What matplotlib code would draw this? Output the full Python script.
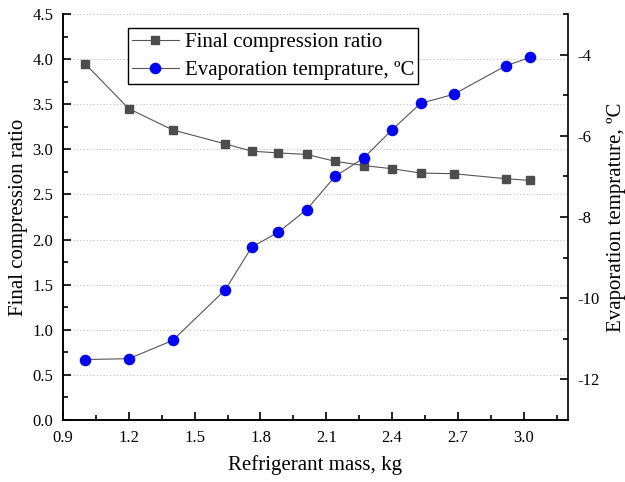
import matplotlib.pyplot as plt
from matplotlib.ticker import MultipleLocator

plt.rcParams['font.family'] = ['Liberation Serif', 'DejaVu Serif']
plt.rcParams['axes.unicode_minus'] = False

# refrigerant charge and measured results
mass = [1.0, 1.2, 1.4, 1.64, 1.76, 1.88, 2.01, 2.14, 2.27, 2.4, 2.53, 2.68, 2.92, 3.03]
compression_ratio = [3.95, 3.45, 3.215, 3.06, 2.98, 2.96, 2.944, 2.867, 2.82, 2.785, 2.737, 2.73, 2.674, 2.655]
evap_temp = [-11.51, -11.49, -11.04, -9.79, -8.74, -8.38, -7.82, -7.0, -6.55, -5.85, -5.2, -4.98, -4.27, -4.07]

fig = plt.figure(figsize=(6.25, 4.82), dpi=100)
ax = fig.add_axes([0.1008, 0.1286, 0.8075, 0.8424])
ax2 = ax.twinx()

l1, = ax.plot(mass, compression_ratio, color='#555555', lw=0.8, marker='s',
              markersize=6.3, markerfacecolor='#4d4d4d', markeredgecolor='#4d4d4d',
              label='Final compression ratio', zorder=3)
l2, = ax2.plot(mass, evap_temp, color='#555555', lw=0.8, marker='o',
               markersize=7.3, markerfacecolor='#0000ff', markeredgecolor='#0000ff',
               label='Evaporation temprature, ºC', zorder=3)

ax.set_xlim(0.9, 3.2)
ax.set_ylim(0, 4.5)
ax2.set_ylim(-13, -3)

ax.xaxis.set_major_locator(MultipleLocator(0.3))
ax.xaxis.set_minor_locator(MultipleLocator(0.15))
ax.yaxis.set_major_locator(MultipleLocator(0.5))
ax.yaxis.set_minor_locator(MultipleLocator(0.25))
ax2.yaxis.set_major_locator(MultipleLocator(2))
ax2.yaxis.set_minor_locator(MultipleLocator(1))
ax.xaxis.set_major_formatter('{x:.1f}')
ax.yaxis.set_major_formatter('{x:.1f}')
ax2.yaxis.set_major_formatter('{x:.0f}')

ax.grid(axis='y', which='major', linestyle=(0, (1, 2)), color='#c0c0c0', lw=0.8)

for a in (ax, ax2):
    a.spines['top'].set_visible(False)
    for s in a.spines.values():
        s.set_linewidth(1.2)
    a.tick_params(which='major', direction='in', length=6, width=1.2,
                  labelsize=12, pad=7)
    a.tick_params(which='minor', direction='in', length=3.5, width=1.2)
ax.spines['right'].set_visible(False)
ax.tick_params(axis='x', which='both', top=False)

ax.set_xlabel('Refrigerant mass, kg', fontsize=15, labelpad=7)
ax.set_ylabel('Final compression ratio', fontsize=15, labelpad=3)
ax2.set_ylabel('Evaporation temprature, ºC', fontsize=15, labelpad=5)

leg = ax2.legend(handles=[l1, l2], loc='upper left', bbox_to_anchor=(0.128, 0.965),
                 borderaxespad=0, fontsize=15, frameon=True, fancybox=False,
                 edgecolor='black', framealpha=1, handlelength=2.25,
                 handletextpad=0.3, borderpad=0.2, labelspacing=0.4)
leg.get_frame().set_linewidth(1.0)

fig.savefig('out.png', dpi=100)
